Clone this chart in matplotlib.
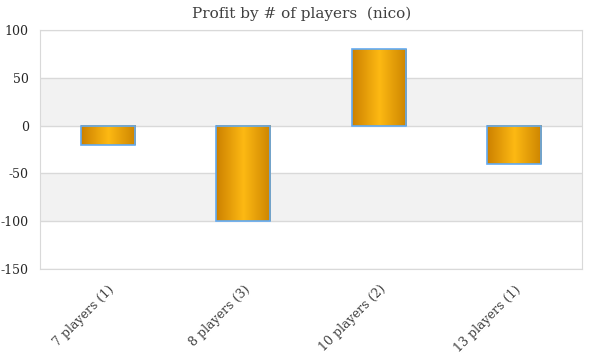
import numpy as np
import matplotlib
matplotlib.use('Agg')
import matplotlib.pyplot as plt
from matplotlib.colors import LinearSegmentedColormap

categories = ['7 players (1)', '8 players (3)', '10 players (2)', '13 players (1)']
profit = [-20, -100, 80, -40]
y_ticks = [-150, -100, -50, 0, 50, 100]

fig = plt.figure(figsize=(6, 3.6), dpi=100)
ax = fig.add_axes([0.0667, 0.2528, 0.9033, 0.664])

# alternating bands like the spreadsheet chart
for lo, hi in [(0, 50), (-100, -50)]:
    ax.axhspan(lo, hi, color='#f2f2f2', zorder=0, lw=0)
for t in y_ticks:
    ax.axhline(t, color='#d9d9d9', lw=1, zorder=1)

x = np.arange(len(categories))
bars = ax.bar(x, profit, width=0.4, facecolor='none', edgecolor='#62aaf2',
              lw=1.2, zorder=3)

grad = LinearSegmentedColormap.from_list('gold', ['#cc8000', '#fdb913', '#cc8400'])
g = np.linspace(0, 1, 256).reshape(1, -1)
for b in bars:
    x0, y0 = b.get_x(), b.get_y()
    w, h = b.get_width(), b.get_height()
    ax.imshow(g, cmap=grad, aspect='auto', zorder=2,
              extent=[x0, x0 + w, min(y0, y0 + h), max(y0, y0 + h)])

ax.set_xlim(-0.5, len(categories) - 0.5)
ax.set_ylim(-150, 100)
ax.set_yticks(y_ticks)
ax.set_yticklabels([str(t) for t in y_ticks], fontsize=9, color='#262626',
                   family='DejaVu Serif')
ax.set_xticks(x)
ax.set_xticklabels(categories, rotation=45, ha='right', rotation_mode='anchor',
                   fontsize=9, color='#404040', family='DejaVu Serif')
ax.tick_params(axis='y', length=0, pad=8)
ax.tick_params(axis='x', length=0, pad=10)
for s in ax.spines.values():
    s.set_color('#d9d9d9')

fig.text(0.502, 0.963, 'Profit by # of players  (nico)', ha='center', va='center',
         fontsize=11, color='#404040', family='DejaVu Serif')

fig.savefig('out.png', dpi=100)
